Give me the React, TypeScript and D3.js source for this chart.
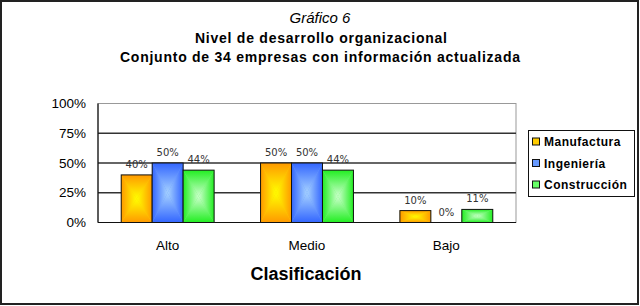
import React from "react";
import * as d3 from "d3";

const categories = ["Alto", "Medio", "Bajo"];
const seriesNames = ["Manufactura", "Ingeniería", "Construcción"];
const manufactura = [40, 50, 10];
const ingenieria = [50, 50, 0];
const construccion = [44, 44, 11];
const yTicks = [0, 25, 50, 75, 100];
const titleLines = ["Gráfico 6", "Nivel de desarrollo organizacional", "Conjunto de 34 empresas con información actualizada"];
const xAxisTitle = "Clasificación";

const seriesValues = [manufactura, ingenieria, construccion];
const seriesColors = [
  { edge: "#FF9900", center: "#FFFF00", mid: "#FFCC00", swatch: "#FFCC00" },
  { edge: "#3366FF", center: "#A6D2FF", mid: "#6699FF", swatch: "#6699FF" },
  { edge: "#22EE22", center: "#CCFFCC", mid: "#66FF66", swatch: "#66FF66" },
];

const W = 640;
const H = 306;
const plot = { left: 98, right: 516, top: 103.5, bottom: 222.5 };
const FONT = "'Liberation Sans', Arial, Helvetica, sans-serif";

export default function App() {
  const x0 = d3.scaleBand<string>().domain(categories).range([plot.left, plot.right]).paddingInner(1 / 3).paddingOuter(1 / 6);
  const x1 = d3.scaleBand<string>().domain(seriesNames).range([0, x0.bandwidth()]).padding(0);
  const y = d3.scaleLinear().domain([0, 100]).range([plot.bottom, plot.top]);

  const bars: React.ReactNode[] = [];
  const labels: React.ReactNode[] = [];
  seriesNames.forEach((s, si) => {
    categories.forEach((c, ci) => {
      const v = seriesValues[si][ci];
      const bx0 = (x0(c) as number) + (x1(s) as number);
      const bx1 = bx0 + x1.bandwidth();
      const by0 = y(v);
      const by1 = y(0);
      const cx = (bx0 + bx1) / 2;
      const cy = (by0 + by1) / 2;
      if (v > 0) {
        bars.push(
          <g key={`b-${si}-${ci}`}>
            <rect x={bx0} y={by0} width={bx1 - bx0} height={by1 - by0} fill={seriesColors[si].mid} />
            <polygon points={`${bx0},${by0} ${cx},${cy} ${bx0},${by1}`} fill={`url(#g${si}L)`} />
            <polygon points={`${bx1},${by0} ${cx},${cy} ${bx1},${by1}`} fill={`url(#g${si}R)`} />
            <polygon points={`${bx0},${by0} ${bx1},${by0} ${cx},${cy}`} fill={`url(#g${si}T)`} />
            <polygon points={`${bx0},${by1} ${bx1},${by1} ${cx},${cy}`} fill={`url(#g${si}B)`} />
            <rect x={bx0} y={by0} width={bx1 - bx0} height={by1 - by0} fill="none" stroke="#111" strokeWidth={1} />
          </g>
        );
      }
      labels.push(
        <text key={`l-${si}-${ci}`} x={cx} y={by0 - 7} textAnchor="middle" fontFamily="'DejaVu Sans', Verdana, sans-serif" fontSize={10} fill="#333">
          {`${v}%`}
        </text>
      );
    });
  });

  const gradDefs: React.ReactNode[] = [];
  seriesColors.forEach((col, si) => {
    const dirs: [string, number, number, number, number][] = [
      ["L", 0, 0, 1, 0],
      ["R", 1, 0, 0, 0],
      ["T", 0, 0, 0, 1],
      ["B", 0, 1, 0, 0],
    ];
    dirs.forEach(([d, ax1, ay1, ax2, ay2]) => {
      gradDefs.push(
        <linearGradient key={`g${si}${d}`} id={`g${si}${d}`} x1={ax1} y1={ay1} x2={ax2} y2={ay2}>
          <stop offset="0" stopColor={col.edge} />
          <stop offset="1" stopColor={col.center} />
        </linearGradient>
      );
    });
  });

  const legendY = [141.5, 163, 184.5];

  return (
    <svg width={W} height={H} style={{ position: "absolute", left: 0, top: 0, display: "block" }}>
      <defs>{gradDefs}</defs>
      <rect x={0} y={0} width={W} height={H} fill="#fff" />
      <rect x={1} y={1} width={637} height={303} fill="none" stroke="#222" strokeWidth={2} />

      {/* titles */}
      <text x={320} y={22.5} textAnchor="middle" fontFamily={FONT} fontSize={15} fontStyle="italic" fill="#000">
        {titleLines[0]}
      </text>
      <text x={321} y={43} textAnchor="middle" fontFamily={FONT} fontSize={14} fontWeight="bold" fill="#000" textLength={252} lengthAdjust="spacing">
        {titleLines[1]}
      </text>
      <text x={320} y={61.5} textAnchor="middle" fontFamily={FONT} fontSize={14} fontWeight="bold" fill="#000" textLength={400} lengthAdjust="spacing">
        {titleLines[2]}
      </text>

      {/* plot area */}
      <rect x={plot.left} y={plot.top} width={plot.right - plot.left} height={plot.bottom - plot.top} fill="#fff" stroke="#999" strokeWidth={1} />
      {yTicks.filter((t) => t > 0 && t < 100).map((t) => (
        <line key={`gl${t}`} x1={plot.left} x2={plot.right} y1={y(t)} y2={y(t)} stroke="#333" strokeWidth={1.5} />
      ))}
      <line x1={plot.left} x2={plot.left} y1={plot.top} y2={plot.bottom} stroke="#111" strokeWidth={1.2} />
      <line x1={plot.left} x2={plot.right} y1={plot.bottom} y2={plot.bottom} stroke="#111" strokeWidth={1.2} />

      {bars}
      {labels}

      {/* y axis labels */}
      {yTicks.map((t) => (
        <text key={`yt${t}`} x={86} y={y(t)} dy="0.35em" textAnchor="end" fontFamily={FONT} fontSize={13.5} fill="#000">
          {`${t}%`}
        </text>
      ))}

      {/* x axis labels */}
      {categories.map((c) => (
        <text key={`xt${c}`} x={(x0(c) as number) + x0.bandwidth() / 2} y={250} textAnchor="middle" fontFamily={FONT} fontSize={13.5} fill="#000">
          {c}
        </text>
      ))}
      <text x={306} y={280} textAnchor="middle" fontFamily={FONT} fontSize={18} fontWeight="bold" fill="#000">
        {xAxisTitle}
      </text>

      {/* legend */}
      <rect x={528.5} y={130.5} width={106} height={66} fill="#fff" stroke="#111" strokeWidth={1} />
      {seriesNames.map((s, i) => (
        <g key={`lg${s}`}>
          <rect x={532.5} y={legendY[i] - 3.5} width={7} height={7} fill={seriesColors[i].swatch} stroke="#111" strokeWidth={1} />
          <text x={544} y={legendY[i] + 4.5} fontFamily={FONT} fontSize={12} fontWeight="bold" letterSpacing={0.5} fill="#000">
            {s}
          </text>
        </g>
      ))}
    </svg>
  );
}
